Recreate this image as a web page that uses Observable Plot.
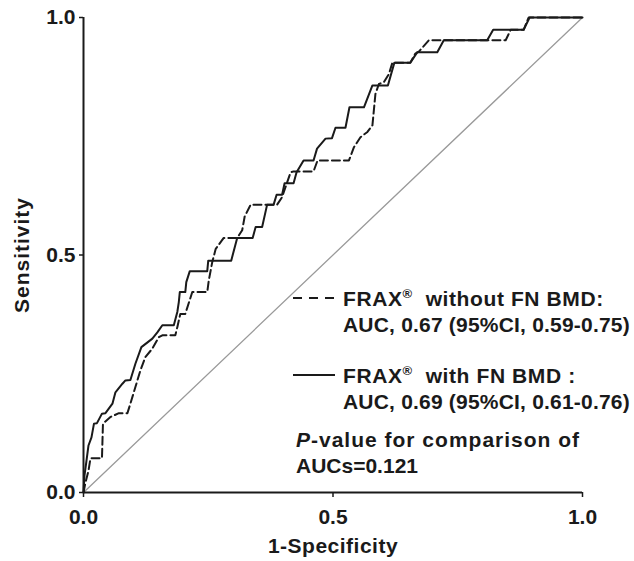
<!DOCTYPE html>
<html><head><meta charset="utf-8">
<script src="https://cdn.jsdelivr.net/npm/d3@7"></script>
<script src="https://cdn.jsdelivr.net/npm/@observablehq/plot@0.6"></script>
<style>
body{margin:0;background:#fff;}
#chart{width:634px;height:561px;}
</style></head><body><div id="chart"></div>
<script>
// ROC curve: FRAX without FN BMD (dashed)
const withoutBMD_x = [0,0.004,0.010,0.014,0.037,0.039,0.054,0.071,0.088,0.094,0.104,0.114,0.124,0.138,0.151,0.158,0.184,0.188,0.194,0.204,0.218,0.248,0.251,0.258,0.265,0.281,0.308,0.318,0.323,0.335,0.388,0.398,0.415,0.421,0.461,0.469,0.532,0.542,0.555,0.569,0.579,0.585,0.592,0.602,0.612,0.619,0.655,0.665,0.672,0.692,0.846,0.856,0.882,0.892,1];
const withoutBMD_y = [0,0.021,0.046,0.072,0.072,0.145,0.159,0.167,0.167,0.187,0.222,0.257,0.285,0.303,0.327,0.331,0.331,0.348,0.376,0.376,0.422,0.422,0.446,0.485,0.513,0.536,0.536,0.552,0.581,0.606,0.606,0.622,0.674,0.676,0.676,0.699,0.699,0.727,0.748,0.759,0.773,0.839,0.860,0.864,0.881,0.905,0.905,0.924,0.928,0.952,0.952,0.974,0.974,1,1];
// ROC curve: FRAX with FN BMD (solid)
const withBMD_x = [0,0.002,0.006,0.010,0.016,0.021,0.027,0.037,0.044,0.058,0.064,0.078,0.084,0.094,0.104,0.116,0.138,0.148,0.158,0.181,0.188,0.191,0.193,0.204,0.206,0.213,0.248,0.250,0.296,0.308,0.339,0.345,0.358,0.368,0.381,0.387,0.398,0.403,0.421,0.427,0.441,0.461,0.468,0.485,0.498,0.505,0.525,0.533,0.562,0.579,0.610,0.623,0.655,0.669,0.709,0.722,0.809,0.821,0.882,0.894,1];
const withBMD_y = [0,0.036,0.067,0.099,0.116,0.145,0.146,0.166,0.167,0.187,0.211,0.229,0.236,0.237,0.271,0.306,0.324,0.337,0.352,0.352,0.380,0.401,0.422,0.422,0.443,0.466,0.466,0.488,0.488,0.536,0.536,0.559,0.559,0.606,0.606,0.627,0.627,0.651,0.651,0.674,0.699,0.699,0.724,0.745,0.746,0.768,0.768,0.811,0.811,0.857,0.857,0.905,0.905,0.927,0.927,0.952,0.952,0.974,0.974,1,1];
const diagonal = [0, 1];
const tickValues = [0, 0.5, 1];
const tickLabels = ["0.0", "0.5", "1.0"];
const xLabel = "1-Specificity";
const yLabel = "Sensitivity";
const legendNames = ["  without FN BMD:", "  with FN BMD :"];
const legendAUC = ["AUC, 0.67 (95%CI, 0.59-0.75)", "AUC, 0.69 (95%CI, 0.61-0.76)"];
const legendDash = ["9,7", null];
const pvalueLines = ["-value for comparison of", "AUCs=0.121"];

const FONT = '"Liberation Sans", Arial, Helvetica, sans-serif';
const INK = "#1a1a1a";
const rows = (xs, ys) => xs.map((x, i) => ({x, y: ys[i]}));
const fmt = d => tickLabels[tickValues.indexOf(d)];

const plot = Plot.plot({
  width: 634, height: 561,
  marginLeft: 83, marginRight: 52, marginTop: 17, marginBottom: 69,
  x: {domain: [0, 1]},
  y: {domain: [0, 1]},
  style: {fontFamily: FONT, fontSize: "21px", fontWeight: "bold", color: INK, background: "white"},
  marks: [
    Plot.line(diagonal, {x: d => d, y: d => d, stroke: "#9a9a9a", strokeWidth: 1.3}),
    Plot.line(rows(withoutBMD_x, withoutBMD_y), {x: "x", y: "y", stroke: INK, strokeWidth: 2, strokeDasharray: "8,4"}),
    Plot.line(rows(withBMD_x, withBMD_y), {x: "x", y: "y", stroke: INK, strokeWidth: 2}),
    Plot.ruleX([0], {stroke: INK, strokeWidth: 2}),
    Plot.ruleY([0], {stroke: INK, strokeWidth: 2}),
    Plot.axisX(tickValues, {tickFormat: fmt, tickSize: 5, tickPadding: 12, label: null, stroke: INK, strokeWidth: 1.5, fontSize: 21, fontWeight: "bold"}),
    Plot.axisY(tickValues, {tickFormat: fmt, tickSize: 4, tickPadding: 4, label: null, stroke: INK, strokeWidth: 1.5, fontSize: 21, fontWeight: "bold"}),
    Plot.text([xLabel], {text: d => d, frameAnchor: "bottom", textAnchor: "middle", lineAnchor: "middle", dy: 54, fontSize: 21, fontWeight: "bold", fill: INK}),
    Plot.text([yLabel], {text: d => d, frameAnchor: "left", textAnchor: "middle", lineAnchor: "middle", rotate: -90, dx: -61, fontSize: 21, fontWeight: "bold", fill: INK})
  ]
});
document.getElementById("chart").appendChild(plot);

// small letter-spacing tweaks on axis titles
d3.select(plot).selectAll("text").filter(function(){ return this.textContent === yLabel; }).attr("letter-spacing", 1);
d3.select(plot).selectAll("text").filter(function(){ return this.textContent === xLabel; }).attr("letter-spacing", 0.5);

// legend / annotation
const svg = d3.select(plot);
const g = svg.append("g").attr("font-family", FONT).attr("font-weight", "bold").attr("font-size", 21)
  .attr("fill", INK).attr("text-anchor", "start");
const itemCenters = [298, 375];
const lineGap = 26;
legendNames.forEach((name, i) => {
  const yc = itemCenters[i];
  g.append("line").attr("x1", 293).attr("x2", 335).attr("y1", yc).attr("y2", yc)
    .attr("stroke", INK).attr("stroke-width", 2).attr("stroke-dasharray", legendDash[i]);
  const t = g.append("text").attr("x", 343).attr("y", yc + 7.5).attr("letter-spacing", 0.6).style("white-space", "pre");
  t.append("tspan").text("FRAX");
  t.append("tspan").attr("font-size", 13).attr("dy", -8).text("®");
  t.append("tspan").attr("dy", 8).text(name);
  g.append("text").attr("x", 343).attr("y", yc + 7.5 + lineGap).attr("letter-spacing", 0.2).text(legendAUC[i]);
});
const pt = g.append("text").attr("x", 296).attr("y", 447).attr("letter-spacing", 1);
pt.append("tspan").attr("font-style", "italic").text("P");
pt.append("tspan").text(pvalueLines[0]);
g.append("text").attr("x", 296).attr("y", 473).text(pvalueLines[1]);
</script></body></html>
